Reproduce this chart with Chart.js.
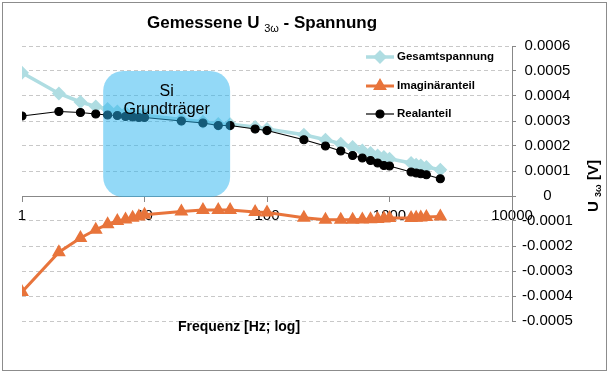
<!DOCTYPE html>
<html>
<head>
<meta charset="utf-8">
<script src="https://cdn.jsdelivr.net/npm/chart.js@4.4.1/dist/chart.umd.min.js"></script>
<style>
html, body { margin: 0; padding: 0; background: #fff; }
#myChart { display: block; }
</style>
</head>
<body>
<canvas id="myChart" width="610" height="374"></canvas>
<script>
var freq = [1, 2, 3, 4, 5, 6, 7, 8, 9, 10, 20, 30, 40, 50, 80, 100, 200, 300, 400, 500, 600, 700, 800, 900, 1000, 1500, 1650, 1800, 2000, 2600];
var gesamt = [0.000493, 0.000410, 0.000376, 0.000358, 0.000348, 0.000338, 0.000332, 0.000328, 0.000325, 0.000323, 0.000306, 0.000297, 0.000288, 0.000287, 0.000276, 0.000268, 0.000245, 0.000225, 0.000209, 0.000196, 0.000182, 0.000172, 0.000162, 0.000156, 0.000149, 0.000132, 0.000125, 0.000122, 0.000116, 0.000105];
var imag = [-0.000384, -0.000225, -0.000168, -0.000135, -0.000113, -0.000100, -0.000094, -0.000087, -0.000082, -0.000075, -0.000062, -0.000056, -0.000056, -0.000056, -0.000064, -0.000066, -0.000087, -0.000095, -0.000095, -0.000095, -0.000094, -0.000093, -0.000092, -0.000090, -0.000088, -0.000088, -0.000087, -0.000086, -0.000084, -0.000082];
var real = [0.000320, 0.000338, 0.000334, 0.000328, 0.000324, 0.000322, 0.000318, 0.000316, 0.000314, 0.000314, 0.000300, 0.000292, 0.000282, 0.000282, 0.000268, 0.000262, 0.000225, 0.000200, 0.000180, 0.000162, 0.000152, 0.000142, 0.000132, 0.000122, 0.000120, 0.000096, 0.000092, 0.000089, 0.000085, 0.000069];
var xTicks = [1, 10, 100, 1000, 10000];
var yTicks = [-0.0005, -0.0004, -0.0003, -0.0002, -0.0001, 0, 0.0001, 0.0002, 0.0003, 0.0004, 0.0005, 0.0006];

var FONT = '"Liberation Sans", Arial, sans-serif';

function toPoints(arr) {
  return freq.map(function(f, i) { return {x: f, y: arr[i]}; });
}

// draws text with a small subscript part: parts = [[text, font, dy], ...]
function drawParts(ctx, parts, cx, cy) {
  var total = 0;
  parts.forEach(function(p) { ctx.font = p[1]; total += ctx.measureText(p[0]).width; });
  var x = cx - total / 2;
  ctx.textAlign = 'left';
  ctx.textBaseline = 'alphabetic';
  parts.forEach(function(p) {
    ctx.font = p[1];
    ctx.fillText(p[0], x, cy + p[2]);
    x += ctx.measureText(p[0]).width;
  });
}

var extras = {
  id: 'extras',
  afterDatasetsDraw: function(chart) {
    var ctx = chart.ctx, xs = chart.scales.x, ys = chart.scales.y;
    var l = xs.getPixelForValue(4.6), r = xs.getPixelForValue(50);
    var t = ys.getPixelForValue(0.0005), b = ys.getPixelForValue(0);
    ctx.save();
    ctx.fillStyle = 'rgba(40,180,240,0.5)';
    ctx.beginPath();
    ctx.roundRect(l, t, r - l, b - t + 1, 20);
    ctx.fill();
    ctx.fillStyle = '#000';
    ctx.font = '16px ' + FONT;
    ctx.textAlign = 'center';
    ctx.textBaseline = 'middle';
    ctx.fillText('Si', (l + r) / 2, 92);
    ctx.fillText('Grundträger', (l + r) / 2, 110);
    ctx.restore();
  },
  afterDraw: function(chart) {
    var ctx = chart.ctx;
    ctx.save();
    // outer frame
    ctx.strokeStyle = '#8c8c8c';
    ctx.lineWidth = 1;
    ctx.strokeRect(2.5, 2.5, 604, 368);

    ctx.fillStyle = '#000';
    // title
    drawParts(ctx, [
      ['Gemessene U ', 'bold 17px ' + FONT, 0],
      ['3ω', '11px ' + FONT, 4],
      [' - Spannung', 'bold 17px ' + FONT, 0]
    ], 262, 28);

    // x axis title
    ctx.font = 'bold 14px ' + FONT;
    ctx.textAlign = 'center';
    ctx.textBaseline = 'middle';
    ctx.fillText('Frequenz [Hz; log]', 239, 327);

    // y axis title (rotated)
    ctx.save();
    ctx.translate(598, 186);
    ctx.rotate(-Math.PI / 2);
    drawParts(ctx, [
      ['U ', 'bold 15px ' + FONT, 0],
      ['3ω', 'bold 9px ' + FONT, 3],
      [' [V]', 'bold 15px ' + FONT, 0]
    ], 0, 0);
    ctx.restore();

    // legend
    var order = [0, 1, 2];
    var rows = [57, 86, 114];
    order.forEach(function(di, k) {
      var ds = chart.data.datasets[di];
      var y = rows[k];
      ctx.strokeStyle = ds.borderColor;
      ctx.lineWidth = ds.borderWidth;
      ctx.beginPath();
      ctx.moveTo(366, y);
      ctx.lineTo(394, y);
      ctx.stroke();
      ctx.fillStyle = ds.pointBackgroundColor;
      ctx.strokeStyle = ds.pointBorderColor;
      Chart.helpers.drawPoint(ctx, {pointStyle: ds.pointStyle, radius: ds.pointRadius, rotation: 0, borderWidth: 1}, 380, y);
      ctx.fillStyle = '#000';
      ctx.font = 'bold 11.5px ' + FONT;
      ctx.textAlign = 'left';
      ctx.textBaseline = 'middle';
      ctx.fillText(ds.label, 397, y);
    });
    ctx.restore();
  }
};

var data = {
  datasets: [
    {
      label: 'Gesamtspannung',
      data: toPoints(gesamt),
      borderColor: '#afdde2',
      backgroundColor: '#afdde2',
      borderWidth: 3.5,
      pointStyle: 'rectRot',
      pointRadius: 4.5,
      pointBackgroundColor: '#afdde2',
      pointBorderColor: '#afdde2',
      order: 3
    },
    {
      label: 'Imaginäranteil',
      data: toPoints(imag),
      borderColor: '#e8743b',
      backgroundColor: '#e8743b',
      borderWidth: 3,
      pointStyle: 'triangle',
      pointRadius: 5,
      pointBackgroundColor: '#e8743b',
      pointBorderColor: '#e8743b',
      order: 2
    },
    {
      label: 'Realanteil',
      data: toPoints(real),
      borderColor: '#000',
      backgroundColor: '#000',
      borderWidth: 1.2,
      pointStyle: 'circle',
      pointRadius: 4,
      pointBackgroundColor: '#000',
      pointBorderColor: '#000',
      order: 1
    }
  ]
};

var config = {
  type: 'line',
  data: data,
  options: {
    responsive: false,
    animation: false,
    devicePixelRatio: 1,
    layout: { padding: { top: 46, left: 22, right: 0, bottom: 53 } },
    plugins: {
      legend: { display: false },
      title: { display: false },
      tooltip: { enabled: false }
    },
    scales: {
      x: {
        type: 'logarithmic',
        min: 1,
        max: 10000,
        position: { y: 0 },
        afterBuildTicks: function(scale) {
          scale.ticks = xTicks.map(function(v) { return {value: v}; });
        },
        ticks: {
          color: '#000',
          font: { family: FONT, size: 15 },
          padding: 6,
          maxRotation: 0,
          autoSkip: false,
          callback: function(v) { return String(v); }
        },
        grid: { drawOnChartArea: false, tickLength: 5, tickColor: '#888' },
        border: { display: true, color: '#888', width: 1 }
      },
      y: {
        type: 'linear',
        position: 'right',
        min: -0.0005,
        max: 0.0006,
        afterBuildTicks: function(scale) {
          scale.ticks = yTicks.map(function(v) { return {value: v}; });
        },
        afterFit: function(scale) { scale.width = 98; },
        ticks: {
          color: '#000',
          font: { family: FONT, size: 15 },
          padding: 6,
          crossAlign: 'center',
          callback: function(v) { return Math.abs(v) < 1e-9 ? '0' : v.toFixed(4); }
        },
        grid: { color: '#c8c8c8', tickLength: 4, tickColor: '#888', tickBorderDash: [] },
        border: { display: true, color: '#888', dash: [4, 3] }
      }
    }
  },
  plugins: [extras]
};

var ctx = document.getElementById('myChart').getContext('2d');
var myChart = new Chart(ctx, config);
</script>
</body>
</html>
